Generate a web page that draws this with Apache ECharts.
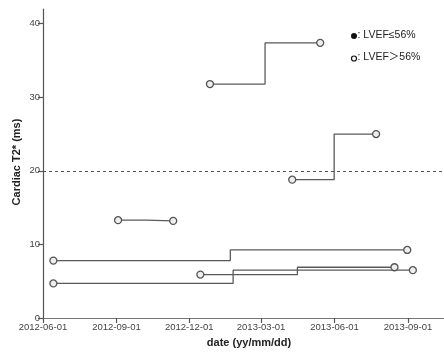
<!DOCTYPE html>
<html>
<head>
<meta charset="utf-8">
<script src="https://cdn.jsdelivr.net/npm/echarts@6/dist/echarts.min.js"></script>
<style>html,body{margin:0;padding:0;background:#fff}#c{width:444px;height:360px}</style>
</head>
<body>
<div id="c"></div>
<script>
// Each patient: two measurement dates and Cardiac T2* values (ms)
const datesA = ['2012-12-27', '2013-05-14'];
const t2A = [31.8, 37.4];
const datesB = ['2013-04-09', '2013-07-23'];
const t2B = [18.8, 25.0];
const datesC = ['2012-09-03', '2012-11-11'];
const t2C = [13.3, 13.2];
const datesD = ['2012-06-14', '2013-08-31'];
const t2D = [7.8, 9.25];
const datesE = ['2012-06-14', '2013-09-07'];
const t2E = [4.7, 6.5];
const datesF = ['2012-12-15', '2013-08-15'];
const t2F = [5.9, 6.9];

const xTickLabels = ['2012-06-01', '2012-09-01', '2012-12-01', '2013-03-01', '2013-06-01', '2013-09-01'];
const yTicks = [0, 10, 20, 30, 40];
const threshold = 20;
const xMinDate = '2012-06-01';
const xMaxDate = '2013-10-16';

function ts(s) { const p = s.split('-').map(Number); return new Date(p[0], p[1] - 1, p[2]).getTime(); }
const tickMap = {};
xTickLabels.forEach(s => { tickMap[ts(s)] = s; });
const tickVals = xTickLabels.map(ts);

const groups = [[datesA, t2A], [datesB, t2B], [datesC, t2C], [datesD, t2D], [datesE, t2E], [datesF, t2F]];
const lineCol = '#5a5a5a';
const series = groups.map((g, i) => ({
  type: 'line',
  step: 'middle',
  data: g[0].map((d, j) => [ts(d), g[1][j]]),
  symbol: 'circle',
  symbolSize: 7,
  showSymbol: true,
  lineStyle: { color: lineCol, width: 1.3 },
  itemStyle: { color: '#eeeeee', borderColor: '#555', borderWidth: 1.3 },
  emphasis: { disabled: true },
  animation: false,
  z: 3
}));
series.push({
  type: 'line', data: [], animation: false,
  markLine: {
    silent: true, symbol: 'none', label: { show: false },
    lineStyle: { type: [3, 3], color: '#555', width: 1.2 },
    data: [{ yAxis: threshold }],
    animation: false
  }
});

const chart = echarts.init(document.getElementById('c'), null, { renderer: 'canvas' });
chart.setOption({
  animation: false,
  backgroundColor: '#fff',
  grid: { left: 43, right: 0, top: 9, bottom: 42 },
  xAxis: [{
    type: 'value',
    min: ts(xMinDate), max: ts(xMaxDate),
    axisLine: { show: true, onZero: false, lineStyle: { color: '#555', width: 1.2 } },
    axisTick: { show: true, length: 5, customValues: tickVals, lineStyle: { color: '#555', width: 1.2 } },
    axisLabel: { show: true, customValues: tickVals, formatter: v => tickMap[v] || '', fontSize: 9.5, color: '#444', fontFamily: 'Liberation Sans, Arial, sans-serif', margin: 4, showMinLabel: true, showMaxLabel: true },
    splitLine: { show: false }
  }, {
    type: 'value', position: 'top',
    min: ts(xMinDate), max: ts(xMaxDate),
    axisLine: { show: true, lineStyle: { color: '#777', width: 1 } },
    axisTick: { show: false }, axisLabel: { show: false }, splitLine: { show: false }
  }],
  yAxis: {
    type: 'value', min: 0, max: 42,
    axisLine: { show: true, onZero: false, lineStyle: { color: '#555', width: 1.2 } },
    axisTick: { show: true, length: 5, customValues: yTicks, lineStyle: { color: '#555', width: 1.2 } },
    axisLabel: { customValues: yTicks, fontSize: 9.5, color: '#444', fontFamily: 'Liberation Sans, Arial, sans-serif', margin: 3 },
    splitLine: { show: false }
  },
  graphic: [
    { type: 'text', x: 249, y: 343, style: { text: 'date (yy/mm/dd)', font: 'bold 11px "Liberation Sans", Arial, sans-serif', fill: '#222', align: 'center', verticalAlign: 'middle' } },
    { type: 'text', x: 17, y: 162, rotation: Math.PI / 2, style: { text: 'Cardiac T2* (ms)', font: 'bold 11px "Liberation Sans", Arial, sans-serif', fill: '#222', align: 'center', verticalAlign: 'middle' } },
    { type: 'circle', shape: { cx: 354, cy: 36, r: 3 }, style: { fill: '#111' } },
    { type: 'text', x: 357.5, y: 35, style: { text: ': LVEF≤56%', font: '10.5px "Liberation Sans", "DejaVu Sans", sans-serif', fill: '#222', verticalAlign: 'middle' } },
    { type: 'circle', shape: { cx: 354, cy: 58.5, r: 2.5 }, style: { fill: '#fff', stroke: '#111', lineWidth: 1.2 } },
    { type: 'text', x: 357.5, y: 57, style: { text: ': LVEF＞56%', font: '10.5px "Liberation Sans", "Noto Sans CJK SC", sans-serif', fill: '#222', verticalAlign: 'middle' } }
  ],
  series: series
});
</script>
</body>
</html>
